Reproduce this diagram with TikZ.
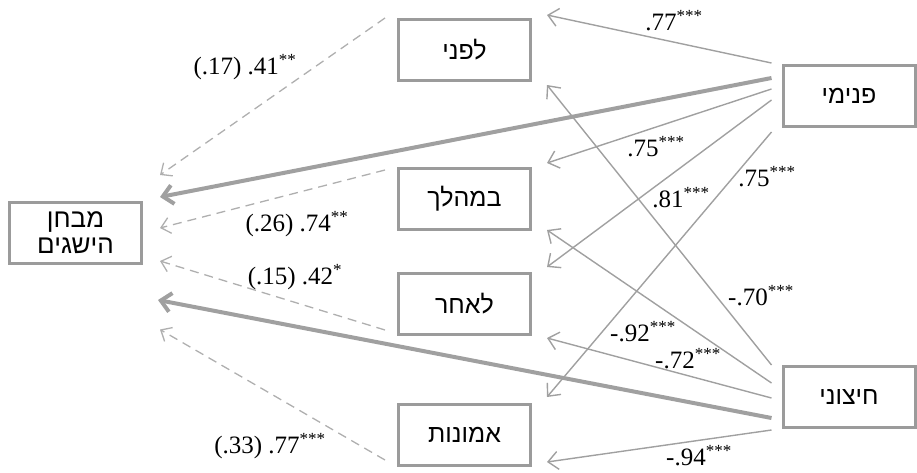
\documentclass[tikz,border=0pt]{standalone}
\usepackage{fontspec}
\setmainfont{Liberation Serif}
\newfontfamily\hebfont[Script=Hebrew]{Liberation Sans}
\TeXXeTstate=1
\usetikzlibrary{arrows.meta}
\definecolor{boxgray}{RGB}{155,155,155}
\definecolor{linegray}{RGB}{160,160,160}
\definecolor{dashgray}{RGB}{175,175,175}
\tikzset{
  varbox/.style={draw=boxgray, line width=3pt, fill=white, minimum width=132pt, minimum height=61pt, outer sep=1.5pt, inner sep=2pt, font=\hebfont\fontsize{25}{26}\selectfont, align=center},
  thinarrow/.style={draw=linegray, line width=1.4pt, -{Straight Barb[length=10pt,width=18pt,line width=1.4pt]}},
  thickarrow/.style={draw=linegray, line width=4pt, -{Straight Barb[length=10pt,width=19pt,line width=4pt]}},
  dasharrow/.style={draw=dashgray, line width=1.3pt, dash pattern=on 9pt off 6pt, -{Straight Barb[length=9pt,width=16pt,line width=1.3pt]}},
  coef/.style={font=\fontsize{25}{26}\selectfont, inner sep=0pt}
}
\newcommand{\stars}[1]{\textsuperscript{\fontsize{17}{17}\selectfont #1}}
\begin{document}
\begin{tikzpicture}[x=1pt,y=-1pt]
\useasboundingbox (0,0) rectangle (917,472);
% nodes
\node[varbox] (lp) at (464.5,50) {\beginR לפני\endR};
\node[varbox] (bm) at (464.5,198.5) {\beginR במהלך\endR};
\node[varbox] (la) at (464.5,304) {\beginR לאחר\endR};
\node[varbox] (am) at (464.5,434.5) {\beginR אמונות\endR};
\node[varbox] (pn) at (849,95.5) {\beginR פנימי\endR};
\node[varbox] (hz) at (849,397) {\beginR חיצוני\endR};
\node[varbox, inner sep=0pt, font=\hebfont\fontsize{26}{26}\selectfont] (mb) at (75.5,232.5) {\beginR מבחן\endR\\\beginR הישגים\endR};
% dashed arrows to achievement test
\draw[dasharrow] ([shift={(-12,-32)}]lp.west) -- ([shift={(17,-57.5)}]mb.east);
\draw[dasharrow] ([shift={(-12,-28.5)}]bm.west) -- ([shift={(17,-4.5)}]mb.east);
\draw[dasharrow] ([shift={(-12,26)}]la.west) -- ([shift={(17,28.5)}]mb.east);
\draw[dasharrow] ([shift={(-12,25.5)}]am.west) -- ([shift={(17,97)}]mb.east);
% thin arrows from internal
\draw[thinarrow] ([shift={(-10,-32.5)}]pn.west) -- ([shift={(15,-35)}]lp.east);
\draw[thinarrow] ([shift={(-10,-6.5)}]pn.west) -- ([shift={(15,-35.5)}]bm.east);
\draw[thinarrow] ([shift={(-10,4.5)}]pn.west) -- ([shift={(15,-37)}]la.east);
\draw[thinarrow] ([shift={(-10,36.5)}]pn.west) -- ([shift={(15,-37.5)}]am.east);
% thin arrows from external
\draw[thinarrow] ([shift={(-10,-32)}]hz.west) -- ([shift={(15,35)}]lp.east);
\draw[thinarrow] ([shift={(-10,-14)}]hz.west) -- ([shift={(15,31.5)}]bm.east);
\draw[thinarrow] ([shift={(-10,1)}]hz.west) -- ([shift={(15,34)}]la.east);
\draw[thinarrow] ([shift={(-10,33)}]hz.west) -- ([shift={(15,27.5)}]am.east);
% thick arrows
\draw[thickarrow] ([shift={(-10,-17.5)}]pn.west) -- ([shift={(17,-35.5)}]mb.east);
\draw[thickarrow] ([shift={(-10,21)}]hz.west) -- ([shift={(15,67.5)}]mb.east);
% coefficients
\node[coef] (c1) at (674,21) {.77\stars{***}};
\node[coef] (c2) at (656,147) {.75\stars{***}};
\node[coef] (c3) at (681,198) {.81\stars{***}};
\node[coef] (c4) at (767,177) {.75\stars{***}};
\node[coef] (c5) at (761,296) {-.70\stars{***}};
\node[coef] (c6) at (643,332) {-.92\stars{***}};
\node[coef] (c7) at (688,359) {-.72\stars{***}};
\node[coef] (c8) at (699,456) {-.94\stars{***}};
\node[coef] (d1) at (245,67) {(.17) .41\stars{**}};
\node[coef] (d2) at (297,224) {(.26) .74\stars{**}};
\node[coef] (d3) at (295,277) {(.15) .42\stars{*}};
\node[coef] (d4) at (270,446) {(.33) .77\stars{***}};
\end{tikzpicture}
\end{document}
